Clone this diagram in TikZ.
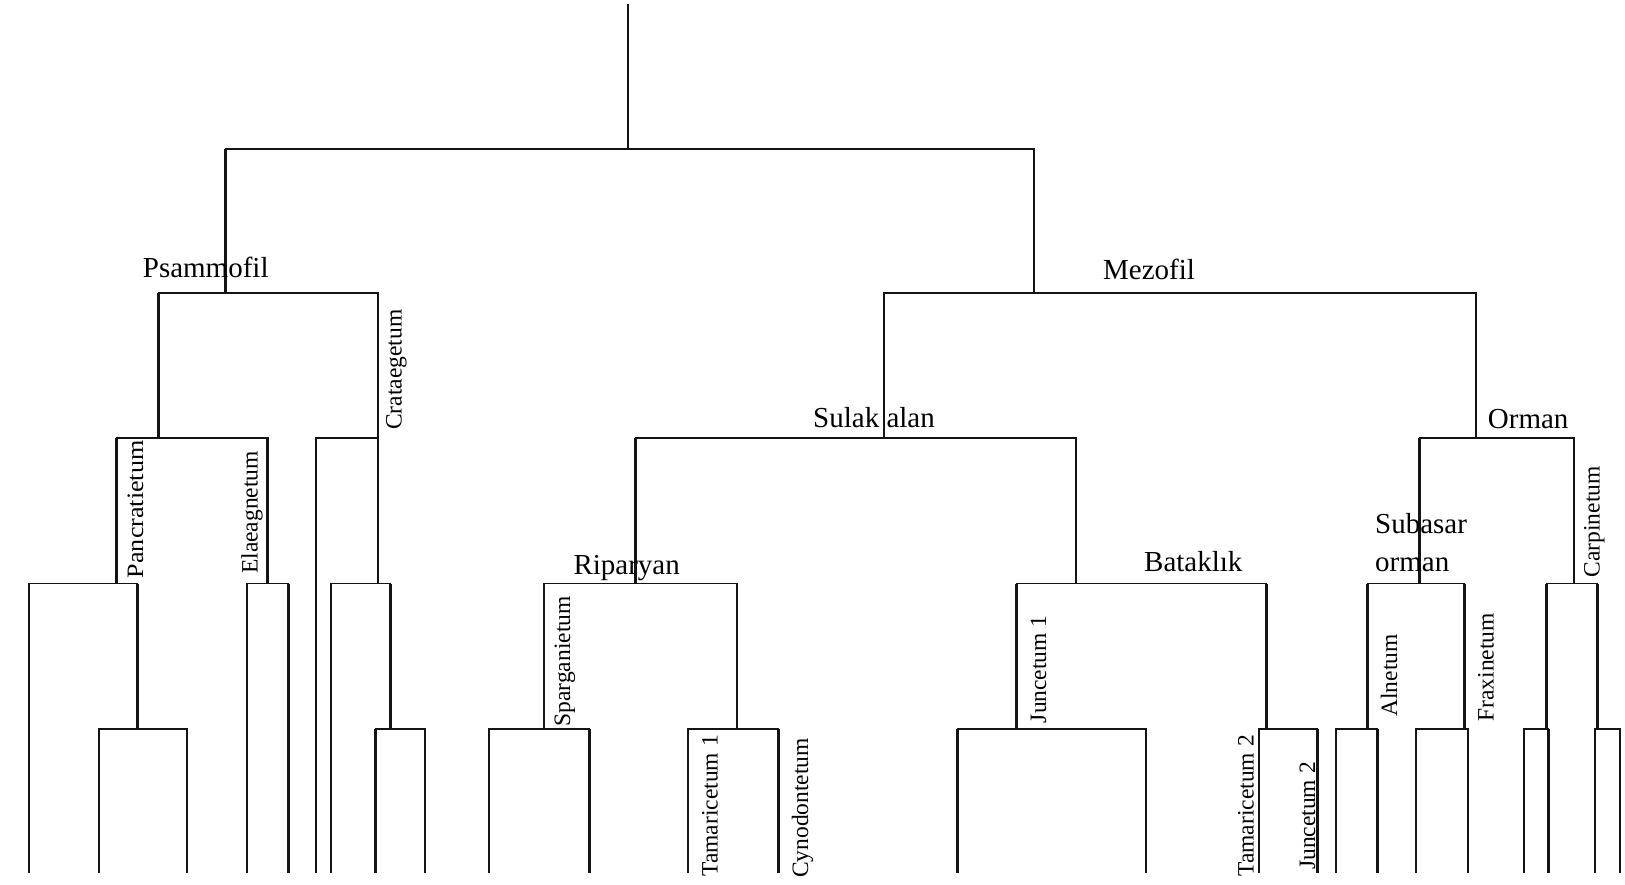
\documentclass[tikz,border=0pt]{standalone}
\usepackage{fontspec}
\usepackage{graphicx}
\setmainfont{Liberation Serif}
\definecolor{lc}{RGB}{20,20,20}
\newcommand{\hlabfont}{\fontsize{29}{35}\selectfont}
\newcommand{\vlabfont}{\fontsize{23.5}{28}\selectfont}
\tikzset{
  hbar/.style={line width=1.5pt, draw=lc, line cap=rect},
  vbar/.style={line width=2.8pt, draw=lc},
  hlab/.style={font=\hlabfont, inner sep=0pt, anchor=base west},
  vlab/.style={font=\vlabfont, inner sep=0pt, anchor=base west, rotate=90},
}
\begin{document}
\begin{tikzpicture}[x=1pt,y=-1pt]
\fill[white] (0,0) rectangle (1625,885);
\useasboundingbox (0,0) rectangle (1625,885);
% tree nodes (x of vertical line, y of its branching bar)
\coordinate (top) at (628,4);
\coordinate (R) at (628,149);
\coordinate (Psam) at (225.5,293);
\coordinate (Mez) at (1034,293);
\coordinate (A) at (158.5,438);
\coordinate (Crat) at (378,438);
\coordinate (Panc) at (116.5,583.5);
\coordinate (Elae) at (267.8,583.5);
\coordinate (B1) at (137.5,729);
\coordinate (l1) at (29,873);
\coordinate (l2) at (99,873);
\coordinate (l3) at (187,873);
\coordinate (l4) at (247,873);
\coordinate (l5) at (288.3,873);
\coordinate (l6) at (316,873);
\coordinate (C2) at (378,583.5);
\coordinate (l7) at (331,873);
\coordinate (C3) at (390.3,729);
\coordinate (l8) at (375.5,873);
\coordinate (l9) at (425,873);
\coordinate (Sulak) at (884,438);
\coordinate (Orman) at (1476,438);
\coordinate (Rip) at (635.3,583.5);
\coordinate (Bat) at (1076,583.5);
\coordinate (Sparg) at (544,729);
\coordinate (l10) at (489,873);
\coordinate (l11) at (589.4,873);
\coordinate (R2) at (737,729);
\coordinate (l12) at (688,873);
\coordinate (l13) at (778.2,873);
\coordinate (Junc) at (1016.8,729);
\coordinate (l14) at (957.7,873);
\coordinate (l15) at (1146,873);
\coordinate (B2) at (1266.3,729);
\coordinate (l16) at (1259,873);
\coordinate (l17) at (1317.6,873);
\coordinate (Sub) at (1419.5,583.5);
\coordinate (Carp) at (1574,583.5);
\coordinate (Aln) at (1367.5,729);
\coordinate (l18) at (1336,873);
\coordinate (l19) at (1377.7,873);
\coordinate (Frax) at (1464.5,729);
\coordinate (l20) at (1416,873);
\coordinate (l21) at (1468,873);
\coordinate (C4) at (1546.7,729);
\coordinate (l22) at (1524,873);
\coordinate (l23) at (1548.7,873);
\coordinate (C5) at (1597.4,729);
\coordinate (l24) at (1595,873);
\coordinate (l25) at (1620,873);
% connectors
\draw[vbar] (top) -- (R);
\foreach \p/\a/\b in {R/Psam/Mez, Psam/A/Crat, Mez/Sulak/Orman, A/Panc/Elae,
  Crat/l6/C2, Panc/l1/B1, B1/l2/l3, Elae/l4/l5, C2/l7/C3, C3/l8/l9,
  Sulak/Rip/Bat, Rip/Sparg/R2, Sparg/l10/l11, R2/l12/l13, Bat/Junc/B2,
  Junc/l14/l15, B2/l16/l17, Orman/Sub/Carp, Sub/Aln/Frax, Aln/l18/l19,
  Frax/l20/l21, Carp/C4/C5, C4/l22/l23, C5/l24/l25}{
  \draw[hbar] (\a |- \p) -- (\b |- \p);
  \draw[vbar] (\a |- \p) -- (\a);
  \draw[vbar] (\b |- \p) -- (\b);
}
% horizontal labels
\node[hlab] (tPsam) at (142.7,278) {Psammofil};
\node[hlab] (tMez) at (1103,280) {Mezofil};
\node[hlab] (tSulak) at (813,427) {Sulak alan};
\node[hlab] (tOrman) at (1487.7,428.5) {Orman};
\node[hlab] (tRip) at (573.3,574) {Riparyan};
\node[hlab] (tBat) at (1144,571.7) {Bataklık};
\node[hlab] (tSub1) at (1375,533.3) {Subasar};
\node[hlab] (tSub2) at (1375,571.7) {orman};
% vertical labels
\node[vlab] (tPanc) at (143,578.3) {\scalebox{1.11}[1]{Pancratietum}};
\node[vlab] (tElae) at (257.5,574) {Elaeagnetum};
\node[vlab] (tCrat) at (401.5,430) {Crataegetum};
\node[vlab] (tSparg) at (570,726.7) {Sparganietum};
\node[vlab] (tTam1) at (717.5,876.7) {Tamaricetum 1};
\node[vlab] (tCyn) at (808,878) {Cynodontetum};
\node[vlab] (tJun1) at (1046,723.3) {Juncetum 1};
\node[vlab] (tTam2) at (1253.5,876.7) {Tamaricetum 2};
\node[vlab] (tJun2) at (1315,870) {Juncetum 2};
\node[vlab] (tAln) at (1397,716.7) {Alnetum};
\node[vlab] (tFrax) at (1493.5,721.7) {Fraxinetum};
\node[vlab] (tCarp) at (1599.5,577.5) {Carpinetum};
\end{tikzpicture}
\end{document}
